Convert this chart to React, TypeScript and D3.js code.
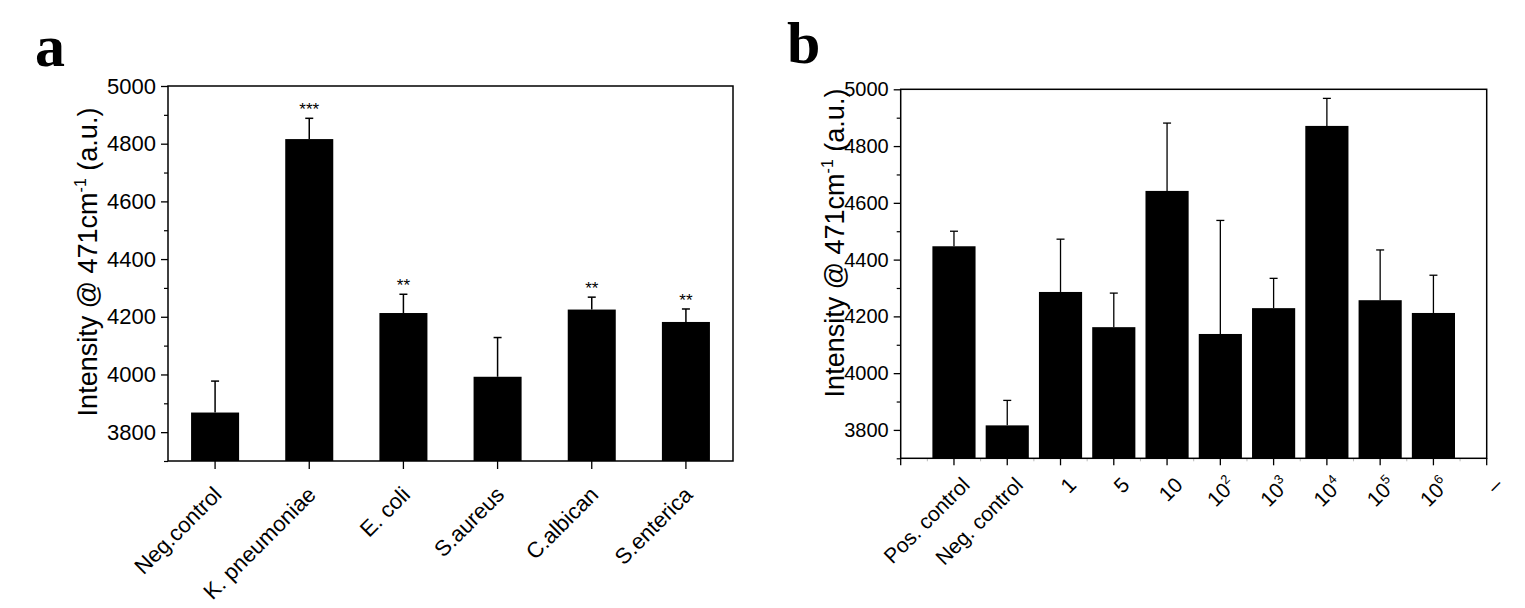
import React, { useEffect, useRef } from 'react';
import * as d3 from 'd3';

// panel a data
const catsA = ['Neg.control', 'K. pneumoniae', 'E. coli', 'S.aureus', 'C.albican', 'S.enterica'];
const valsA = [3868, 4816, 4213, 3992, 4225, 4182];
const errA = [109, 72, 65, 136, 43, 45];
const starsA = ['', '***', '**', '', '**', '**'];

// panel b data
const labelsB = ['Pos. control', 'Neg. control', '1', '5', '10', '10', '10', '10', '10', '10', '–'];
const expB = ['', '', '', '', '', '2', '3', '4', '5', '6', ''];
const valsB = [4447, 3816, 4286, 4162, 4642, 4138, 4229, 4871, 4257, 4212];
const errB = [53, 88, 186, 120, 239, 400, 105, 97, 177, 133];

const yTicks = [3800, 4000, 4200, 4400, 4600, 4800, 5000];
const yMinor = [3700, 3900, 4100, 4300, 4500, 4700, 4900];

const FONT = '"Liberation Sans", Arial, sans-serif';

const App: React.FC = () => {
  const svgRef = useRef<SVGSVGElement>(null);

  useEffect(() => {
    if (!svgRef.current) return;
    const svg = d3.select(svgRef.current);
    svg.selectAll('*').remove();

    const drawYAxis = (g: any, y: any, x0: number, fontSize: number) => {
      const ax = g.append('g').attr('transform', `translate(${x0},0)`)
        .call(d3.axisLeft(y).tickValues(yTicks).tickSize(7).tickSizeOuter(0).tickPadding(5).tickFormat(d3.format('d')));
      ax.select('.domain').remove();
      ax.selectAll('line').attr('stroke', '#000').attr('stroke-width', 1.3);
      ax.selectAll('text').attr('font-family', FONT).attr('font-size', fontSize).attr('fill', '#000');
      const mn = g.append('g').attr('transform', `translate(${x0},0)`)
        .call(d3.axisLeft(y).tickValues(yMinor).tickSize(4).tickSizeOuter(0).tickFormat(() => ''));
      mn.select('.domain').remove();
      mn.selectAll('line').attr('stroke', '#000').attr('stroke-width', 1.2);
    };

    const drawYLabel = (g: any, x: number, yc: number) => {
      const t = g.append('text')
        .attr('transform', `translate(${x},${yc}) rotate(-90)`)
        .attr('text-anchor', 'middle')
        .attr('font-family', FONT)
        .attr('font-size', 27)
        .attr('fill', '#000');
      t.append('tspan').text('Intensity @ 471cm');
      t.append('tspan').attr('font-size', 16).attr('dy', -11).text('-1');
      t.append('tspan').attr('dy', 11).text(' (a.u.)');
    };

    // ---------- panel a ----------
    const ga = svg.append('g');
    const ax0 = 168, ax1 = 733, ayTop = 86, ayBot = 461;
    const xa = d3.scaleBand<string>().domain(catsA).range([ax0, ax1]).padding(0);
    const ya = d3.scaleLinear().domain([3700, 5000]).range([ayBot, ayTop]);
    const bwA = xa.bandwidth() * 0.51;

    catsA.forEach((c, i) => {
      const cx = (xa(c) as number) + xa.bandwidth() / 2;
      const top = ya(valsA[i] + errA[i]);
      ga.append('line').attr('x1', cx).attr('x2', cx)
        .attr('y1', ya(valsA[i])).attr('y2', top)
        .attr('stroke', '#000').attr('stroke-width', 1.5);
      ga.append('line').attr('x1', cx - 4).attr('x2', cx + 4)
        .attr('y1', top).attr('y2', top)
        .attr('stroke', '#000').attr('stroke-width', 1.5);
      ga.append('rect')
        .attr('x', cx - bwA / 2).attr('width', bwA)
        .attr('y', ya(valsA[i])).attr('height', ayBot - ya(valsA[i]))
        .attr('fill', '#000');
      if (starsA[i]) {
        ga.append('text').attr('x', cx).attr('y', top - 3)
          .attr('text-anchor', 'middle').attr('font-family', FONT).attr('font-size', 17)
          .attr('fill', '#000').text(starsA[i]);
      }
      // x tick + label
      ga.append('line').attr('x1', cx).attr('x2', cx).attr('y1', ayBot).attr('y2', ayBot + 8)
        .attr('stroke', '#000').attr('stroke-width', 1.3);
      ga.append('text')
        .attr('transform', `translate(${cx + 8},${ayBot + 35}) rotate(-45)`)
        .attr('text-anchor', 'end').attr('font-family', FONT).attr('font-size', 22)
        .attr('fill', '#000').text(c);
    });

    ga.append('rect').attr('x', ax0).attr('y', ayTop).attr('width', ax1 - ax0).attr('height', ayBot - ayTop)
      .attr('fill', 'none').attr('stroke', '#000').attr('stroke-width', 1.5);
    drawYAxis(ga, ya, ax0, 22);
    drawYLabel(ga, 97, 262);
    ga.append('text').attr('x', 35).attr('y', 66)
      .attr('font-family', '"Liberation Serif", "Times New Roman", serif')
      .attr('font-weight', 'bold').attr('font-size', 60).attr('fill', '#000').text('a');

    // ---------- panel b ----------
    const gb = svg.append('g');
    const bx0 = 900.7, bx1 = 1486.7, byTop = 89.3, byBot = 458.3;
    const xb = d3.scaleLinear().domain([0, 11]).range([bx0, bx1]);
    const yb = d3.scaleLinear().domain([3700, 5000]).range([byBot, byTop]);
    const bwB = (xb(1) - xb(0)) * 0.81;

    valsB.forEach((v, i) => {
      const cx = xb(i + 1);
      const top = yb(v + errB[i]);
      gb.append('line').attr('x1', cx).attr('x2', cx)
        .attr('y1', yb(v)).attr('y2', top)
        .attr('stroke', '#000').attr('stroke-width', 1.3);
      gb.append('line').attr('x1', cx - 4).attr('x2', cx + 4)
        .attr('y1', top).attr('y2', top)
        .attr('stroke', '#000').attr('stroke-width', 1.3);
      gb.append('rect')
        .attr('x', cx - bwB / 2).attr('width', bwB)
        .attr('y', yb(v)).attr('height', byBot - yb(v))
        .attr('fill', '#000');
    });

    d3.range(0, 12).forEach((k) => {
      gb.append('line').attr('x1', xb(k)).attr('x2', xb(k)).attr('y1', byBot).attr('y2', byBot + 7)
        .attr('stroke', '#000').attr('stroke-width', 1.3);
    });
    d3.range(0.5, 11, 1).forEach((k) => {
      gb.append('line').attr('x1', xb(k)).attr('x2', xb(k)).attr('y1', byBot).attr('y2', byBot + 3)
        .attr('stroke', '#bbb').attr('stroke-width', 1);
    });

    labelsB.forEach((lab, i) => {
      const cx = xb(i + 1);
      const t = gb.append('text')
        .attr('transform', `translate(${cx + 17},${byBot + 28}) rotate(-45)`)
        .attr('text-anchor', 'end').attr('font-family', FONT).attr('font-size', 21)
        .attr('fill', '#000');
      t.append('tspan').text(lab);
      if (expB[i]) {
        t.append('tspan').attr('font-size', 13).attr('dy', -9).text(expB[i]);
      }
    });

    gb.append('rect').attr('x', bx0).attr('y', byTop).attr('width', bx1 - bx0).attr('height', byBot - byTop)
      .attr('fill', 'none').attr('stroke', '#000').attr('stroke-width', 1.5);
    drawYAxis(gb, yb, bx0, 20);
    drawYLabel(gb, 844, 243);
    gb.append('text').attr('x', 787).attr('y', 63)
      .attr('font-family', '"Liberation Serif", "Times New Roman", serif')
      .attr('font-weight', 'bold').attr('font-size', 60).attr('fill', '#000').text('b');
  }, []);

  return (
    <div>
      <style>{`body{margin:0;background:#fff}`}</style>
      <svg ref={svgRef} width={1525} height={608} style={{ display: 'block', background: '#fff' }} />
    </div>
  );
};

export default App;
